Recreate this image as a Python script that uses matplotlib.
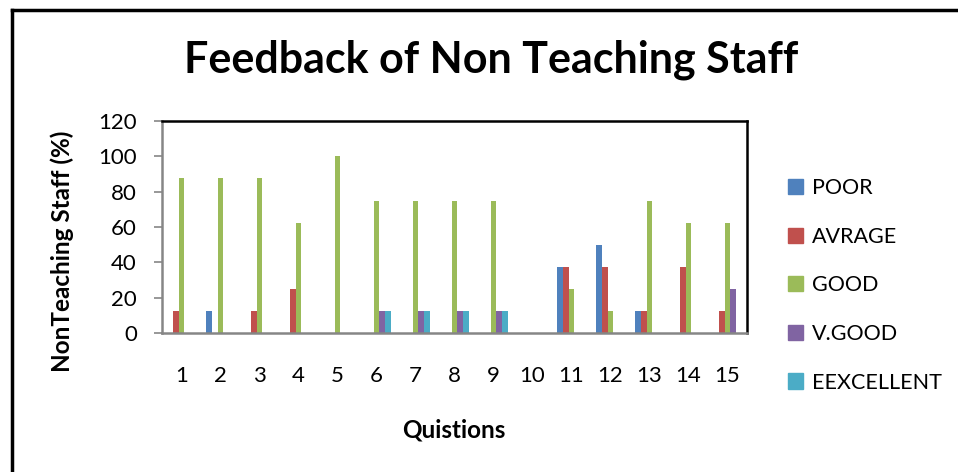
import matplotlib
matplotlib.use("Agg")
import matplotlib.pyplot as plt
from matplotlib.lines import Line2D
import numpy as np

questions = [str(i) for i in range(1, 16)]
series_names = ["POOR", "AVRAGE", "GOOD", "V.GOOD", "EEXCELLENT"]
poor      = [0, 12.5, 0, 0, 0, 0, 0, 0, 0, 0, 37.5, 50, 12.5, 0, 0]
average   = [12.5, 0, 12.5, 25, 0, 0, 0, 0, 0, 0, 37.5, 37.5, 12.5, 37.5, 12.5]
good      = [87.5, 87.5, 87.5, 62.5, 100, 75, 75, 75, 75, 0, 25, 12.5, 75, 62.5, 62.5]
vgood     = [0, 0, 0, 0, 0, 12.5, 12.5, 12.5, 12.5, 0, 0, 0, 0, 0, 25]
excellent = [0, 0, 0, 0, 0, 12.5, 12.5, 12.5, 12.5, 0, 0, 0, 0, 0, 0]
series = [poor, average, good, vgood, excellent]
colors = ["#4F81BD", "#C0504D", "#9BBB59", "#8064A2", "#4BACC6"]

FONT = "Lato"
plt.rcParams['font.family'] = [FONT, 'DejaVu Sans']

W, H = 958, 472
fig = plt.figure(figsize=(W / 100, H / 100), dpi=100)
ax = fig.add_axes([162 / W, 1 - 333 / H, (747 - 162) / W, (333 - 121) / H])

x = np.arange(1, len(questions) + 1)
bw = 0.15
for i, (vals, c, name) in enumerate(zip(series, colors, series_names)):
    ax.bar(x + (i - 2) * bw, vals, width=bw, color=c, label=name, zorder=2)

ax.set_xlim(0.5, 15.5)
ax.set_ylim(0, 120)
ax.set_yticks(range(0, 121, 20))
ax.set_xticks(x)
ax.set_xticklabels(questions)
ax.tick_params(axis='x', length=0, pad=24, labelsize=16)
ax.tick_params(axis='y', length=6, width=1.2, color="#868686", labelsize=16, pad=12)

for s in ["left", "bottom"]:
    ax.spines[s].set_color("#868686")
    ax.spines[s].set_linewidth(1.8)
for s in ["top", "right"]:
    ax.spines[s].set_color("black")
    ax.spines[s].set_linewidth(1.8)

fig.text(62 / W, 1 - 251 / H, "NonTeaching Staff (%)", rotation=90, ha="center", va="center",
         fontsize=17.5, fontweight="bold")
fig.text(454 / W, 1 - 430 / H, "Quistions", ha="center", va="center",
         fontsize=17.5, fontweight="bold")
fig.text(491 / W, 1 - 60 / H, "Feedback of Non Teaching Staff", ha="center", va="center",
         fontsize=31, fontweight="bold")

handles = [plt.Rectangle((0, 0), 1, 1, color=c) for c in colors]
leg = fig.legend(handles, series_names, loc="upper left",
                 bbox_to_anchor=(788 / W, 1 - 178 / H), frameon=False,
                 fontsize=15.5, handlelength=0.7, handleheight=0.7,
                 handletextpad=0.4, labelspacing=1.33, borderaxespad=0,
                 borderpad=0)

# outer frame (left and top edges)
fig.add_artist(Line2D([12 / W, 12 / W], [0, 1 - 10 / H], transform=fig.transFigure,
                      color="black", lw=2.5))
fig.add_artist(Line2D([12 / W, 1], [1 - 10 / H, 1 - 10 / H], transform=fig.transFigure,
                      color="black", lw=2.5))

fig.savefig("out.png", dpi=100)
